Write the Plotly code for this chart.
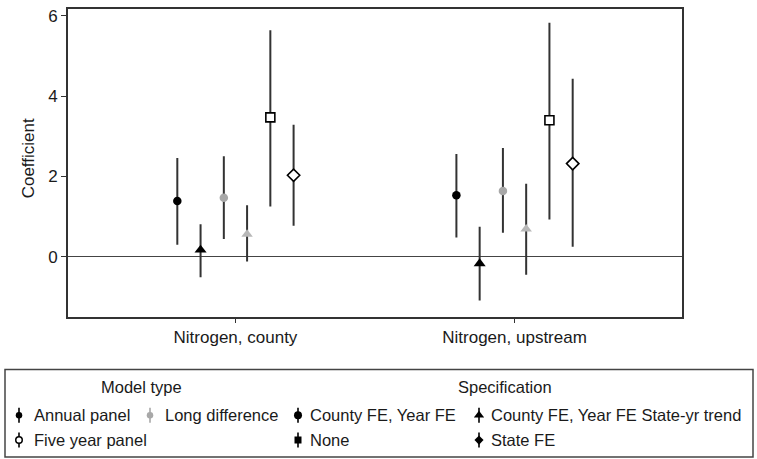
import plotly.graph_objects as go

# ---------------- data ----------------
categories = ["Nitrogen, county", "Nitrogen, upstream"]
y_ticks = [0, 2, 4, 6]

series_model = ["Annual panel", "Annual panel", "Long difference",
                "Long difference", "Five year panel", "Five year panel"]
series_spec = ["County FE, Year FE", "County FE, Year FE State-yr trend",
               "County FE, Year FE", "County FE, Year FE State-yr trend",
               "None", "State FE"]

annual_fe_est = [1.39, 1.53]
annual_fe_lo = [0.30, 0.48]
annual_fe_hi = [2.46, 2.56]

annual_trend_est = [0.17, -0.17]
annual_trend_lo = [-0.51, -1.09]
annual_trend_hi = [0.81, 0.75]

long_fe_est = [1.47, 1.64]
long_fe_lo = [0.44, 0.60]
long_fe_hi = [2.50, 2.71]

long_trend_est = [0.56, 0.69]
long_trend_lo = [-0.12, -0.45]
long_trend_hi = [1.28, 1.82]

five_none_est = [3.47, 3.40]
five_none_lo = [1.25, 0.93]
five_none_hi = [5.64, 5.83]

five_state_est = [2.03, 2.32]
five_state_lo = [0.77, 0.25]
five_state_hi = [3.29, 4.43]

series_est = [annual_fe_est, annual_trend_est, long_fe_est, long_trend_est, five_none_est, five_state_est]
series_lo = [annual_fe_lo, annual_trend_lo, long_fe_lo, long_trend_lo, five_none_lo, five_state_lo]
series_hi = [annual_fe_hi, annual_trend_hi, long_fe_hi, long_trend_hi, five_none_hi, five_state_hi]

legend_model_labels = ["Annual panel", "Long difference", "Five year panel"]
legend_spec_labels = ["County FE, Year FE", "County FE, Year FE State-yr trend", "None", "State FE"]

# ---------------- styles ----------------
FONT = "Liberation Sans, Arial, Helvetica, sans-serif"
FS = 17
FS_LEG = 16.5
TXT = "#1a1a1a"
model_color = {"Annual panel": "#000000", "Long difference": "#a8a8a8", "Five year panel": "#ffffff"}
model_line = {"Annual panel": "#000000", "Long difference": "#a8a8a8", "Five year panel": "#000000"}
spec_symbol = {"County FE, Year FE": "circle", "County FE, Year FE State-yr trend": "triangle-up",
               "None": "square", "State FE": "diamond"}
series_size = [8.5, 10.5, 8.5, 10, 9, 9.5]
series_fill = ["#000000", "#000000", "#a8a8a8", "#b8b8b8", "#ffffff", "#ffffff"]
dodge = [(k - 2.5) / 12 for k in range(6)]
cat_pos = list(range(1, len(categories) + 1))

fig = go.Figure()

for i in range(6):
    m = series_model[i]
    s = series_spec[i]
    est = series_est[i]
    xs = [p + dodge[i] for p in cat_pos]
    fig.add_trace(go.Scatter(
        x=xs, y=est, mode="markers", showlegend=False,
        name=f"{m} / {s}",
        marker=dict(symbol=spec_symbol[s], size=series_size[i], color=series_fill[i],
                    line=dict(color="#000000" if m == "Five year panel" else series_fill[i],
                              width=1.6 if m == "Five year panel" else 0)),
        error_y=dict(type="data", symmetric=False,
                     array=[h - e for h, e in zip(series_hi[i], est)],
                     arrayminus=[e - l for e, l in zip(est, series_lo[i])],
                     width=0, thickness=2, color="#333333"),
        xaxis="x", yaxis="y",
    ))

# ---------------- custom legend (pixel grid) ----------------
col_x = [19, 150, 298, 479]
row_y = [415, 440]
model_cells = [(0, 0), (1, 0), (0, 1)]
spec_cells = [(2, 0), (3, 0), (2, 1), (3, 1)]
spec_sizes = [8, 9, 7, 7]
annotations = []

for lab, (c, r) in zip(legend_model_labels, model_cells):
    fig.add_trace(go.Scatter(
        x=[col_x[c]], y=[row_y[r]], mode="markers", showlegend=False, hoverinfo="skip",
        marker=dict(symbol="circle", size=6.5, color=model_color[lab],
                    line=dict(color=model_line[lab], width=1.5 if lab == "Five year panel" else 0)),
        error_y=dict(type="constant", value=7.5, width=0, thickness=1.6, color=model_line[lab]),
        xaxis="x2", yaxis="y2"))
    annotations.append(dict(x=col_x[c] + 13, y=row_y[r], xref="x2", yref="y2", text=lab,
                            showarrow=False, xanchor="left", yanchor="middle",
                            font=dict(family=FONT, size=FS_LEG, color=TXT)))

for lab, (c, r), sz in zip(legend_spec_labels, spec_cells, spec_sizes):
    fig.add_trace(go.Scatter(
        x=[col_x[c]], y=[row_y[r]], mode="markers", showlegend=False, hoverinfo="skip",
        marker=dict(symbol=spec_symbol[lab], size=sz, color="#000000"),
        error_y=dict(type="constant", value=7.5, width=0, thickness=1.6, color="#000000"),
        xaxis="x2", yaxis="y2"))
    annotations.append(dict(x=col_x[c] + 10, y=row_y[r], xref="x2", yref="y2", text=lab,
                            showarrow=False, xanchor="left", yanchor="middle",
                            font=dict(family=FONT, size=FS_LEG, color=TXT)))

annotations.append(dict(x=141, y=387, xref="x2", yref="y2", text="Model type", showarrow=False,
                        xanchor="center", yanchor="middle", font=dict(family=FONT, size=FS_LEG, color=TXT)))
annotations.append(dict(x=505, y=387, xref="x2", yref="y2", text="Specification", showarrow=False,
                        xanchor="center", yanchor="middle", font=dict(family=FONT, size=FS_LEG, color=TXT)))
annotations.append(dict(x=28 / 757, y=(459 - 157) / 459, xref="paper", yref="paper", text="Coefficient",
                        textangle=-90, showarrow=False, xanchor="center", yanchor="middle",
                        font=dict(family=FONT, size=FS, color=TXT)))

W, H = 757, 459
fig.update_layout(
    width=W, height=H,
    margin=dict(l=0, r=0, t=0, b=0),
    paper_bgcolor="white", plot_bgcolor="white",
    font=dict(family=FONT, size=FS, color=TXT),
    showlegend=False,
    xaxis=dict(domain=[68 / W, 682 / W], range=[0.4, 2.6], tickvals=cat_pos, ticktext=categories,
               showline=True, mirror=True, linecolor="#333333", linewidth=2,
               ticks="outside", ticklen=4, tickwidth=1, tickcolor="#333333",
               showgrid=False, zeroline=False, tickfont=dict(size=FS, color=TXT), anchor="y"),
    yaxis=dict(domain=[(H - 316) / H, (H - 7) / H], range=[-1.49, 6.17], tickvals=y_ticks,
               showline=True, mirror=True, linecolor="#333333", linewidth=2,
               ticks="outside", ticklen=5, tickwidth=1, tickcolor="#333333",
               showgrid=False, zeroline=True, zerolinecolor="#444444", zerolinewidth=1.2,
               tickfont=dict(size=FS, color=TXT), anchor="x"),
    xaxis2=dict(domain=[0, 1], range=[0, W], visible=False, anchor="y2"),
    yaxis2=dict(domain=[0, (H - 360) / H], range=[H, 360], visible=False, anchor="x2"),
    shapes=[dict(type="rect", xref="x2", yref="y2", x0=5, x1=753, y0=369, y1=457,
                 line=dict(color="#444444", width=1.5), fillcolor="rgba(0,0,0,0)")],
    annotations=annotations,
)

fig.write_html("out.html")
